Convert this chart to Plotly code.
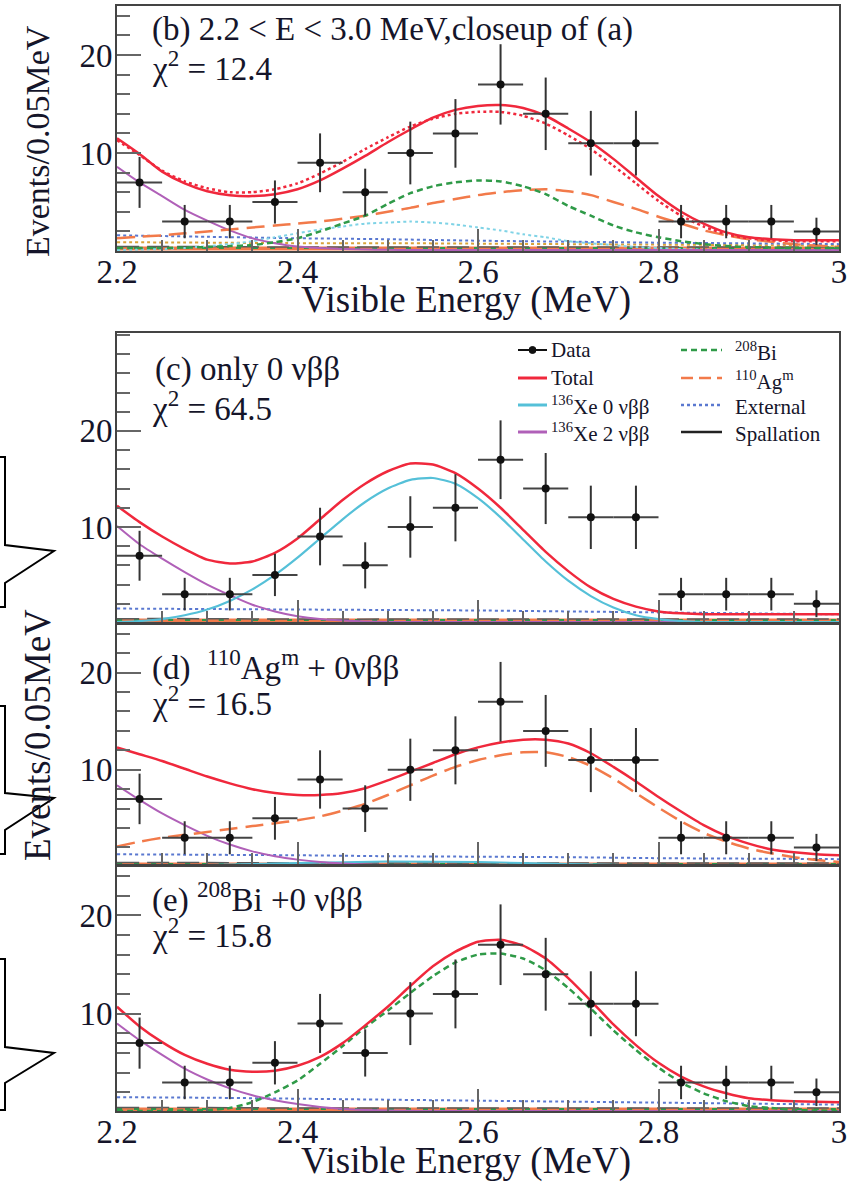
import plotly.graph_objects as go

# ---------------- data ----------------
E_BIN = [2.225, 2.275, 2.325, 2.375, 2.425, 2.475, 2.525, 2.575,
         2.625, 2.675, 2.725, 2.775, 2.825, 2.875, 2.925, 2.975]
COUNTS = [7, 3, 3, 5, 9, 6, 10, 12, 17, 14, 11, 11, 3, 3, 3, 2]
COUNT_ERR = [2.6, 1.7, 1.7, 2.2, 3.0, 2.4, 3.2, 3.5, 4.1, 3.7, 3.3, 3.3, 1.7, 1.7, 1.7, 1.4]
BIN_HALF = [0.025] * 16

E_FINE = [2.200, 2.225, 2.250, 2.275, 2.300, 2.325, 2.350, 2.375, 2.400, 2.425, 2.450,
          2.475, 2.500, 2.525, 2.550, 2.575, 2.600, 2.625, 2.650, 2.675, 2.700, 2.725,
          2.750, 2.775, 2.800, 2.825, 2.850, 2.875, 2.900, 2.925, 2.950, 2.975, 3.000]
E_COARSE = [2.2, 2.3, 2.4, 2.5, 2.6, 2.7, 2.8, 2.9, 3.0]

# panel (b)
B_TOTAL = [11.5, 9.9, 8.1, 6.9, 6.1, 5.7, 5.6, 5.8, 6.3, 7.2, 8.4, 9.7, 11.1, 12.4, 13.6, 14.4,
           14.8, 14.9, 14.6, 13.8, 12.5, 11.1, 9.4, 7.5, 5.6, 4.0, 2.8, 1.9, 1.4, 1.2, 1.1, 1.1, 1.1]
B_TOTAL_ALT = [11.3, 9.8, 8.2, 7.1, 6.4, 6.0, 6.0, 6.3, 6.9, 7.9, 9.1, 10.4, 11.6, 12.7, 13.5, 14.0,
               14.2, 14.2, 13.8, 13.0, 11.8, 10.4, 8.7, 6.9, 5.1, 3.6, 2.5, 1.7, 1.3, 1.1, 1.0, 1.0, 1.0]
B_BI = [0.3, 0.3, 0.3, 0.35, 0.4, 0.5, 0.6, 0.9, 1.3, 2.0, 2.8, 3.6, 4.8, 5.9, 6.6, 7.0,
        7.2, 7.1, 6.6, 5.8, 4.6, 3.6, 2.6, 1.9, 1.4, 1.0, 0.7, 0.5, 0.4, 0.35, 0.3, 0.3, 0.3]
B_AG = [1.3, 1.45, 1.6, 1.8, 2.0, 2.2, 2.4, 2.6, 2.8, 3.0, 3.3, 3.6, 4.0, 4.4, 4.9, 5.3,
        5.7, 6.0, 6.2, 6.3, 6.1, 5.7, 5.0, 4.3, 3.5, 2.8, 2.1, 1.6, 1.2, 0.95, 0.7, 0.55, 0.4]
B_XE0 = [0.1, 0.15, 0.2, 0.3, 0.5, 0.7, 1.0, 1.4, 1.8, 2.2, 2.5, 2.8, 2.9, 3.0, 2.9, 2.7,
         2.4, 2.1, 1.7, 1.4, 1.0, 0.8, 0.6, 0.4, 0.3, 0.2, 0.15, 0.1, 0.1, 0.1, 0.1, 0.1, 0.1]
B_XE2 = [8.6, 7.0, 5.6, 4.2, 3.1, 2.1, 1.3, 0.8, 0.45, 0.3, 0.2, 0.15, 0.12, 0.1, 0.1, 0.1,
         0.1, 0.1, 0.1, 0.1, 0.1, 0.1, 0.1, 0.1, 0.1, 0.1, 0.1, 0.1, 0.1, 0.1, 0.1, 0.1, 0.1]
B_EXT = [1.6, 1.45, 1.3, 1.2, 1.05, 0.95, 0.85, 0.78, 0.7]
B_OTHER = [0.9, 0.85, 0.8, 0.8, 0.75, 0.7, 0.65, 0.6, 0.55]

# panel (c)
C_TOTAL = [12.2, 10.5, 9.0, 7.7, 6.6, 6.2, 6.4, 7.3, 8.8, 10.8, 12.8, 14.5, 15.8, 16.6, 16.5, 15.6,
           14.0, 12.0, 9.7, 7.4, 5.4, 3.7, 2.5, 1.7, 1.2, 1.0, 0.9, 0.9, 0.9, 0.9, 0.9, 0.9, 0.9]
C_XE0 = [0.1, 0.2, 0.4, 0.8, 1.4, 2.3, 3.5, 5.0, 6.8, 8.8, 10.8, 12.6, 14.0, 14.9, 15.1, 14.5,
         13.0, 11.0, 8.7, 6.4, 4.4, 2.8, 1.6, 0.8, 0.4, 0.2, 0.1, 0.1, 0.1, 0.1, 0.1, 0.1, 0.1]
C_XE2 = [10.1, 8.2, 6.7, 5.3, 4.0, 2.9, 1.9, 1.2, 0.7, 0.4, 0.25, 0.15, 0.1, 0.1, 0.1, 0.1,
         0.1, 0.1, 0.1, 0.1, 0.1, 0.1, 0.1, 0.1, 0.1, 0.1, 0.1, 0.1, 0.1, 0.1, 0.1, 0.1, 0.1]
C_EXT = [1.5, 1.45, 1.4, 1.35, 1.3, 1.2, 1.1, 1.0, 0.9]

# panel (d)
D_TOTAL = [12.3, 11.6, 10.9, 10.1, 9.3, 8.6, 8.0, 7.6, 7.4, 7.4, 7.6, 8.1, 8.9, 9.8, 10.7, 11.6,
           12.3, 12.8, 13.1, 13.1, 12.7, 11.7, 10.3, 8.8, 7.2, 5.7, 4.3, 3.2, 2.4, 1.8, 1.5, 1.3, 1.2]
D_AG = [2.1, 2.6, 3.0, 3.3, 3.6, 3.9, 4.2, 4.5, 4.8, 5.2, 5.8, 6.5, 7.4, 8.4, 9.4, 10.3,
        11.0, 11.5, 11.8, 11.8, 11.3, 10.4, 9.1, 7.6, 6.1, 4.7, 3.5, 2.6, 1.9, 1.4, 1.0, 0.7, 0.5]
D_XE2 = [8.4, 6.9, 5.5, 4.3, 3.2, 2.3, 1.6, 1.1, 0.75, 0.5, 0.35, 0.25, 0.2, 0.15, 0.15, 0.15,
         0.15, 0.15, 0.15, 0.15, 0.15, 0.15, 0.15, 0.15, 0.15, 0.15, 0.15, 0.15, 0.15, 0.15, 0.15, 0.15, 0.15]
D_XE0 = [0.1, 0.2, 0.4, 0.55, 0.5, 0.3, 0.15, 0.1, 0.1]
D_EXT = [1.3, 1.25, 1.2, 1.1, 1.05, 1.0, 0.9, 0.85, 0.8]

# panel (e)
E_TOTAL = [10.7, 8.7, 7.1, 5.8, 4.9, 4.3, 4.1, 4.2, 4.7, 5.6, 7.0, 8.8, 10.7, 12.8, 14.8, 16.3,
           17.3, 17.5, 16.9, 15.6, 13.6, 11.3, 8.9, 6.8, 5.0, 3.6, 2.6, 1.9, 1.4, 1.2, 1.1, 1.05, 1.0]
E_BI = [0.1, 0.1, 0.1, 0.15, 0.2, 0.4, 1.0, 2.0, 3.2, 4.9, 6.7, 8.6, 10.3, 12.1, 13.8, 15.2,
        16.0, 16.1, 15.6, 14.4, 12.6, 10.5, 8.3, 6.3, 4.5, 3.0, 1.9, 1.1, 0.6, 0.4, 0.2, 0.15, 0.1]
E_XE2 = [9.0, 7.3, 5.8, 4.4, 3.3, 2.4, 1.7, 1.2, 0.8, 0.5, 0.3, 0.2, 0.15, 0.12, 0.1, 0.1,
         0.1, 0.1, 0.1, 0.1, 0.1, 0.1, 0.1, 0.1, 0.1, 0.1, 0.1, 0.1, 0.1, 0.1, 0.1, 0.1, 0.1]
E_EXT = [1.5, 1.45, 1.35, 1.25, 1.15, 1.05, 0.95, 0.85, 0.75]

# near-zero components drawn along the bottom of each panel
FLOOR_AG = [0.25, 0.25, 0.25, 0.25, 0.25, 0.25, 0.25, 0.25, 0.25]
FLOOR_BI = [0.3, 0.3, 0.3, 0.3, 0.3, 0.3, 0.3, 0.3, 0.3]
SPALL = [0.45, 0.45, 0.4, 0.4, 0.4, 0.4, 0.4, 0.4, 0.4]

X_TICKS = [2.2, 2.4, 2.6, 2.8, 3.0]
X_TICKTEXT = ["2.2", "2.4", "2.6", "2.8", "3"]
Y_TICKS = [10, 20]
Y_TICKTEXT = ["10", "20"]

LEGEND_COL1 = ["Data", "Total", "<sup>136</sup>Xe 0 νββ", "<sup>136</sup>Xe 2 νββ"]
LEGEND_COL2 = ["<sup>208</sup>Bi", "<sup>110</sup>Ag<sup>m</sup>", "External", "Spallation"]

# ---------------- styling ----------------
W, H = 852, 1183
SERIF = "Liberation Serif, Times New Roman, serif"
TXT = "#15152a"
RED = "#f0283c"
CYAN = "#55c0d8"
PURPLE = "#b060b8"
GREEN = "#2f9a48"
ORANGE = "#f27a4a"
EXTC = "#5a78d0"
SPALLC = "#5a5a5a"
OTHERC = "#d9a33a"


def fx(p):
    return p / W


def fy(p):
    return 1 - p / H


X_L, X_R = 117, 839
PANELS = {  # top, bottom pixel, y-range
    1: (6, 251, [0, 25]),
    2: (333, 622, [0.1, 30.2]),
    3: (625, 864, [0.3, 24.9]),
    4: (867, 1111, [0.1, 24.9]),
}

fig = go.Figure()


def ax(i):
    return ("x" if i == 1 else f"x{i}"), ("y" if i == 1 else f"y{i}")


def curve(i, x, y, color, width=2.2, dash="solid"):
    xa, ya = ax(i)
    fig.add_trace(go.Scatter(x=x, y=y, xaxis=xa, yaxis=ya, mode="lines",
                             line=dict(color=color, width=width, dash=dash, shape="spline", smoothing=0.6),
                             showlegend=False, hoverinfo="skip"))


def floor_lines(i):
    curve(i, E_COARSE, FLOOR_AG, ORANGE, 4)
    curve(i, E_COARSE, FLOOR_BI, GREEN, 2, "5px,12px")
    curve(i, E_COARSE, SPALL, SPALLC, 1.5, "22px,8px")


def data(i):
    xa, ya = ax(i)
    fig.add_trace(go.Scatter(
        x=E_BIN, y=COUNTS, xaxis=xa, yaxis=ya, mode="markers",
        marker=dict(color="#111", size=8),
        error_y=dict(type="data", array=COUNT_ERR, color="#333", thickness=2, width=0),
        error_x=dict(type="data", array=BIN_HALF, color="#444", thickness=2, width=0),
        showlegend=False, hoverinfo="skip"))


# panel b
floor_lines(1)
curve(1, E_COARSE, B_OTHER, OTHERC, 2, "dot")
curve(1, E_COARSE, B_EXT, EXTC, 2, "dot")
curve(1, E_FINE, B_XE0, "#7fd3e6", 2, "dot")
curve(1, E_FINE, B_XE2, PURPLE, 2)
curve(1, E_FINE, B_AG, ORANGE, 2.5, "18px,8px")
curve(1, E_FINE, B_BI, GREEN, 2.5, "6px,4px")
curve(1, E_FINE, B_TOTAL_ALT, RED, 2.5, "dot")
curve(1, E_FINE, B_TOTAL, RED, 2.5)
data(1)

# panel c
floor_lines(2)
curve(2, E_COARSE, C_EXT, EXTC, 2, "dot")
curve(2, E_FINE, C_XE2, PURPLE, 2)
curve(2, E_FINE, C_XE0, CYAN, 2.2)
curve(2, E_FINE, C_TOTAL, RED, 2.5)
data(2)

# panel d
floor_lines(3)
curve(3, E_COARSE, D_EXT, EXTC, 2, "dot")
curve(3, E_COARSE, D_XE0, CYAN, 2)
curve(3, E_FINE, D_XE2, PURPLE, 2)
curve(3, E_FINE, D_AG, ORANGE, 2.5, "18px,8px")
curve(3, E_FINE, D_TOTAL, RED, 2.5)
data(3)

# panel e
floor_lines(4)
curve(4, E_COARSE, E_EXT, EXTC, 2, "dot")
curve(4, E_FINE, E_XE2, PURPLE, 2)
curve(4, E_FINE, E_BI, GREEN, 2.5, "6px,4px")
curve(4, E_FINE, E_TOTAL, RED, 2.5)
data(4)

# axes
for i, (top, bot, yr) in PANELS.items():
    xa = "xaxis" if i == 1 else f"xaxis{i}"
    ya = "yaxis" if i == 1 else f"yaxis{i}"
    xname, yname = ax(i)
    fig.layout[xa] = dict(
        domain=[fx(X_L), fx(X_R)], anchor=yname, range=[2.2, 3.0], automargin=False,
        showline=True, linecolor="#444", linewidth=2, mirror=True,
        ticks="inside", tickvals=X_TICKS, ticktext=X_TICKTEXT, ticklen=22,
        tickcolor="#666", tickwidth=2, ticklabelstandoff=-10,
        minor=dict(ticks="inside", tickmode="linear", tick0=2.2, dtick=0.05,
                   ticklen=11, tickcolor="#666", tickwidth=2),
        showticklabels=(i in (1, 4)), showgrid=False, zeroline=False,
        tickfont=dict(family=SERIF, size=33, color=TXT))
    fig.layout[ya] = dict(
        domain=[fy(bot), fy(top)], anchor=xname, range=yr, automargin=False,
        showline=True, linecolor="#444", linewidth=2, mirror=True,
        ticks="inside", tickvals=Y_TICKS, ticktext=Y_TICKTEXT, ticklen=24,
        tickcolor="#666", tickwidth=2, ticklabelstandoff=-4,
        minor=dict(ticks="inside", tickmode="linear", tick0=0, dtick=2,
                   ticklen=13, tickcolor="#666", tickwidth=2),
        showgrid=False, zeroline=False,
        tickfont=dict(family=SERIF, size=33, color=TXT))

# text annotations
ANN = [
    ("(b) 2.2 < E < 3.0 MeV,closeup of (a)", 150, 30),
    ("χ<sup>2</sup> = 12.4", 150, 66),
    ("(c) only 0 νββ", 153, 370),
    ("χ<sup>2</sup> = 64.5", 150, 406),
    ("(d)  <sup>110</sup>Ag<sup>m</sup> + 0νββ", 150, 665),
    ("χ<sup>2</sup> = 16.5", 150, 701),
    ("(e) <sup>208</sup>Bi +0 νββ", 150, 897),
    ("χ<sup>2</sup> = 15.8", 150, 933),
]
for text, x, y in ANN:
    fig.add_annotation(text=text, x=fx(x), y=fy(y), xref="paper", yref="paper",
                       xanchor="left", yanchor="middle", showarrow=False,
                       font=dict(family=SERIF, size=33, color=TXT))

for y in (300, 1161):
    fig.add_annotation(text="Visible Energy (MeV)", x=fx(466), y=fy(y), xref="paper", yref="paper",
                       xanchor="center", yanchor="middle", showarrow=False,
                       font=dict(family=SERIF, size=37, color=TXT))
for y, s in ((141, 34), (735, 37)):
    fig.add_annotation(text="Events/0.05MeV", x=fx(37), y=fy(y), xref="paper", yref="paper",
                       xanchor="center", yanchor="middle", showarrow=False, textangle=-90,
                       font=dict(family=SERIF, size=s, color=TXT))

# legend drawn in panel (c): two columns
ROW_Y = [350, 378, 405, 432]
COL1_STYLE = [("#111", "solid"), (RED, "solid"), (CYAN, "solid"), (PURPLE, "solid")]
COL2_STYLE = [(GREEN, "6px,4px"), (ORANGE, "12px,6px"), (EXTC, "dot"), ("#222", "solid")]
for (label, (col, dash)), y in zip(zip(LEGEND_COL1, COL1_STYLE), ROW_Y):
    fig.add_shape(type="line", xref="paper", yref="paper", x0=fx(518), x1=fx(547), y0=fy(y), y1=fy(y),
                  line=dict(color=col, width=3 if col != "#111" else 2, dash=dash))
    fig.add_annotation(text=label, x=fx(549), y=fy(y), xref="paper", yref="paper",
                       xanchor="left", yanchor="middle", showarrow=False,
                       font=dict(family=SERIF, size=21, color=TXT))
fig.add_shape(type="circle", xref="paper", yref="paper",
              x0=fx(529), x1=fx(536), y0=fy(ROW_Y[0] + 3.5), y1=fy(ROW_Y[0] - 3.5),
              fillcolor="#111", line=dict(color="#111", width=1))
for (label, (col, dash)), y in zip(zip(LEGEND_COL2, COL2_STYLE), ROW_Y):
    fig.add_shape(type="line", xref="paper", yref="paper", x0=fx(681), x1=fx(722), y0=fy(y), y1=fy(y),
                  line=dict(color=col, width=2.5, dash=dash))
    fig.add_annotation(text=label, x=fx(733), y=fy(y + 2), xref="paper", yref="paper",
                       xanchor="left", yanchor="middle", showarrow=False,
                       font=dict(family=SERIF, size=21, color=TXT))

# callout outlines at the left edge
CALLOUTS = [(457, 545, 551, 583, 607), (706, 793, 798, 830, 854), (959, 1047, 1053, 1083, 1110)]
for t, m1, pt, m2, b in CALLOUTS:
    pts = [(0, t), (5, t), (5, m1), (54, pt), (5, m2), (5, b), (0, b)]
    path = "M " + " L ".join(f"{fx(a):.5f},{fy(c):.5f}" for a, c in pts)
    fig.add_shape(type="path", path=path, xref="paper", yref="paper",
                  line=dict(color="black", width=2))

fig.update_layout(
    width=W, height=H, autosize=False, showlegend=False,
    margin=dict(l=0, r=0, t=0, b=0, pad=0, autoexpand=False),
    paper_bgcolor="white", plot_bgcolor="white",
)

fig.write_html("out.html", config={"displayModeBar": False, "staticPlot": True},
               post_script="document.body.style.margin='0';document.body.style.overflow='hidden';")
